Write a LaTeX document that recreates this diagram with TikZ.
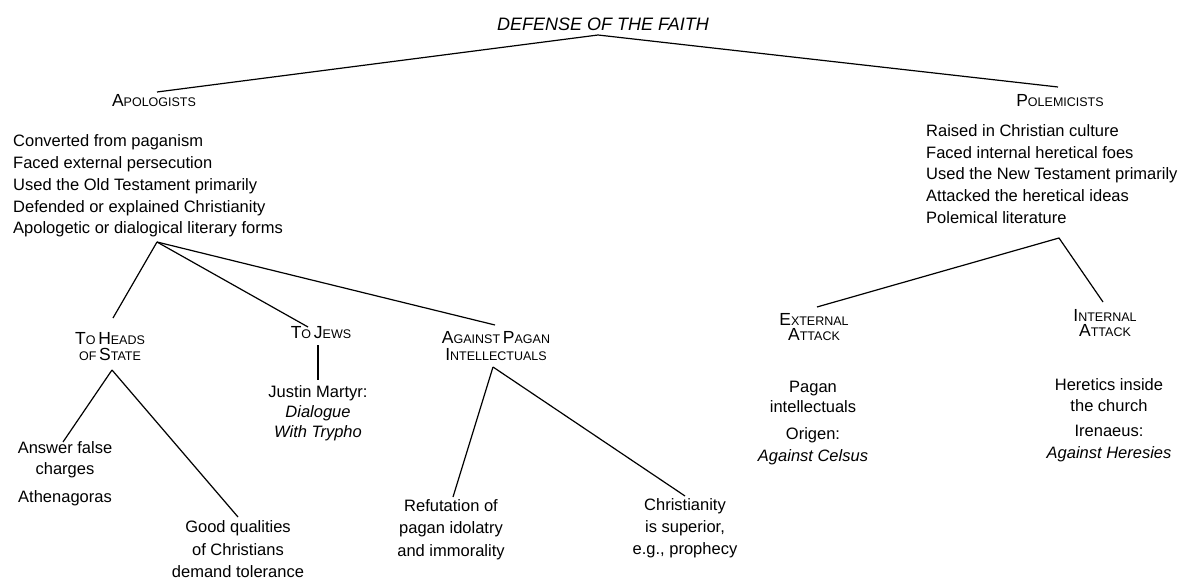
\documentclass[tikz,border=0pt]{standalone}
\usepackage{fontspec}
\setmainfont{Liberation Sans}
\newcommand{\fsc}[2]{{\fontsize{17.5}{17.5}\selectfont #1}{\fontsize{12.5}{12.5}\selectfont #2}}
\begin{document}
\begin{tikzpicture}[x=1pt,y=-1pt,
  txt/.style={inner sep=0pt,align=center,font=\fontsize{16.5}{21}\selectfont},
  lst/.style={inner sep=0pt,align=left,anchor=west,font=\fontsize{16.5}{21.8}\selectfont},
  hd/.style={inner sep=0pt,align=center},
  conn/.style={line width=1.2pt,black}]
\useasboundingbox[fill=white] (0,0) rectangle (1196,580);
% headings
\node[inner sep=0pt,font=\fontsize{18}{18}\selectfont\itshape] (title) at (603,24) {DEFENSE OF THE FAITH};
\node[hd] (apol) at (154,101) {\fsc{A}{POLOGISTS}};
\node[hd] (polem) at (1060,101) {\fsc{P}{OLEMICISTS}};
\node[lst] (apollist) at (13,186) {Converted from paganism\\Faced external persecution\\Used the Old Testament primarily\\Defended or explained Christianity\\Apologetic or dialogical literary forms};
\node[lst] (polemlist) at (926,174) {Raised in Christian culture\\Faced internal heretical foes\\Used the New Testament primarily\\Attacked the heretical ideas\\Polemical literature};
\node[hd] (heads) at (110,346.5) {\fsc{T}{O} \fsc{H}{EADS}\\[3pt]\fsc{}{OF} \fsc{S}{TATE}};
\node[hd] (jews) at (321,333) {\fsc{T}{O} \fsc{J}{EWS}};
\node[hd] (against) at (496,346) {\fsc{A}{GAINST} \fsc{P}{AGAN}\\[3pt]\fsc{I}{NTELLECTUALS}};
\node[hd] (external) at (814,327.5) {\fsc{E}{XTERNAL}\\[2pt]\fsc{A}{TTACK}};
\node[hd] (internal) at (1105,323) {\fsc{I}{NTERNAL}\\[2pt]\fsc{A}{TTACK}};
% leaves
\node[txt] (answer) at (65,460) {Answer false\\charges};
\node[txt] (athen) at (65,498) {Athenagoras};
\node[txt,font=\fontsize{16.5}{22.5}\selectfont] (good) at (238,549.5) {Good qualities\\of Christians\\demand tolerance};
\node[txt,font=\fontsize{16.5}{20}\selectfont] (justin) at (318,413) {Justin Martyr:\\\textit{Dialogue}\\\textit{With Trypho}};
\node[txt,font=\fontsize{16.5}{22.5}\selectfont] (refut) at (451,529.5) {Refutation of\\pagan idolatry\\and immorality};
\node[txt,font=\fontsize{16.5}{22}\selectfont] (christ) at (685,528) {Christianity\\is superior,\\e.g., prophecy};
\node[txt,font=\fontsize{16.5}{20}\selectfont] (pagan) at (813,397) {Pagan\\intellectuals};
\node[txt,font=\fontsize{16.5}{22}\selectfont] (origen) at (813,446) {Origen:\\\textit{Against Celsus}};
\node[txt,font=\fontsize{16.5}{21}\selectfont] (heretics) at (1109,395.5) {Heretics inside\\the church};
\node[txt,font=\fontsize{16.5}{22}\selectfont] (iren) at (1109,444) {Irenaeus:\\\textit{Against Heresies}};
% connector ends
\coordinate (apex) at (598,35);
\coordinate (apolTop) at (157,92);
\coordinate (polTop) at (1058,87);
\coordinate (apolBot) at (157,242);
\coordinate (headsTop) at (113,318);
\coordinate (jewsTop) at (308,327);
\coordinate (againstTop) at (495,325);
\coordinate (headsBot) at (112,370);
\coordinate (answerTop) at (63,442);
\coordinate (goodTop) at (238,517);
\coordinate (jewsBot) at (318,345);
\coordinate (justinTop) at (318,380);
\coordinate (againstBot) at (493,367);
\coordinate (refutTop) at (453,497);
\coordinate (christTop) at (685,496);
\coordinate (polBot) at (1059,238);
\coordinate (extTop) at (817,307);
\coordinate (intTop) at (1103,302);
% connectors
\draw[conn] (apolTop) -- (apex) -- (polTop);
\draw[conn] (apolBot) -- (headsTop);
\draw[conn] (apolBot) -- (jewsTop);
\draw[conn] (apolBot) -- (againstTop);
\draw[conn] (headsBot) -- (answerTop);
\draw[conn] (headsBot) -- (goodTop);
\draw[conn] (jewsBot) -- (justinTop);
\draw[conn] (againstBot) -- (refutTop);
\draw[conn] (againstBot) -- (christTop);
\draw[conn] (extTop) -- (polBot) -- (intTop);
\end{tikzpicture}
\end{document}
